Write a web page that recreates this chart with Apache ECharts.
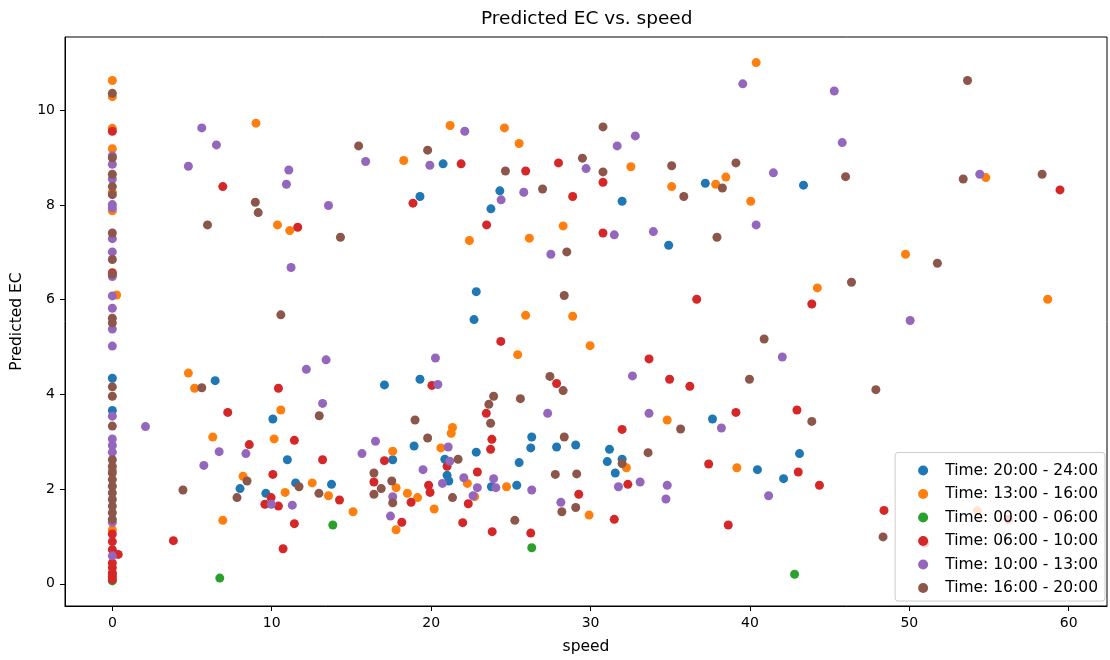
<!DOCTYPE html>
<html>
<head>
<meta charset="utf-8">
<script src="https://cdn.jsdelivr.net/npm/echarts@6/dist/echarts.min.js"></script>
<style>html,body{margin:0;padding:0;background:#fff;}#c{width:1110px;height:660px;}</style>
</head>
<body>
<div id="c"></div>
<script>
const seriesNames = ["Time: 20:00 - 24:00","Time: 13:00 - 16:00","Time: 00:00 - 06:00","Time: 06:00 - 10:00","Time: 10:00 - 13:00","Time: 16:00 - 20:00"];
const colors = ["#1f77b4","#ff7f0e","#2ca02c","#d62728","#9467bd","#8c564b"];
const xTicks = [0,10,20,30,40,50,60];
const yTicks = [0,2,4,6,8,10];

const blue = [[0,4.34],[0,3.66],
[6.45,4.29],[10.07,3.48],[10.98,2.62],[11.50,2.13],[8.01,2.01],[9.63,1.91],
[20.75,8.87],[19.30,8.18],[24.31,8.30],[23.75,7.92],[22.83,6.17],[22.69,5.58],
[19.30,4.32],[17.07,4.20],[18.93,2.91],[17.59,2.62],[22.83,2.78],[20.86,2.63],
[26.31,3.10],[26.25,2.87],[27.87,2.89],[29.07,2.93],[25.52,2.56],[21.00,2.29],[21.11,2.17],[23.78,2.05],[25.37,2.08],[13.75,2.10],
[37.20,8.46],[43.36,8.42],[31.98,8.08],[34.90,7.15],
[37.65,3.48],[31.19,2.84],[31.05,2.58],[31.98,2.63],[31.55,2.34],[40.47,2.41],[43.11,2.75],[42.11,2.22]];

const orange = [[0,10.63],[0,10.29],[0,9.62],[0,9.19],[0,8.27],[0,7.88],[0.27,6.10],[0,2.4],[0,1.14],
[9.01,9.73],[10.36,7.58],[11.13,7.46],[4.77,4.45],[5.16,4.13],[10.57,3.67],[6.30,3.10],[10.15,3.06],[8.20,2.27],[12.54,2.13],[10.84,1.93],[6.93,1.34],
[21.19,9.68],[24.60,9.63],[25.52,9.30],[18.28,8.94],[22.40,7.25],[26.16,7.30],[28.28,7.56],[25.93,5.67],[28.88,5.65],
[25.43,4.84],[21.34,3.30],[21.26,3.18],[20.61,2.87],[17.59,2.80],[17.80,2.03],[18.51,1.91],[19.15,1.82],[22.27,2.12],[22.73,1.84],[24.73,2.05],[13.56,1.86],[15.10,1.52],[17.80,1.14],[20.19,1.58],
[40.39,11.01],[32.53,8.81],[35.09,8.39],[37.85,8.44],[38.49,8.59],[40.05,8.08],[44.23,6.25],
[29.97,5.03],[34.81,3.46],[32.25,2.45],[39.18,2.45],[29.91,1.45],
[49.76,6.96],[54.80,8.58],[58.68,6.01],[54.27,1.54]];

const green = [[0,0.06],[0,0.2],[6.74,0.12],[13.83,1.24],[26.31,0.76],[42.80,0.20]];

const red = [[0,9.56],[0,6.57],[0,1.05],[0,0.89],[0,0.72],[0.37,0.62],[0,0.44],[0,0.34],[0,0.23],[0,0.15],[0,0.09],
[6.93,8.39],[11.63,7.53],[10.42,4.13],[7.24,3.62],[11.42,3.03],[8.59,2.94],[10.07,2.31],[9.96,1.82],[9.57,1.68],[10.42,1.64],[11.42,1.27],[3.83,0.91],[10.71,0.74],
[21.88,8.87],[25.93,8.72],[27.99,8.89],[18.86,8.04],[28.88,8.18],[23.48,7.58],
[24.37,5.12],[20.05,4.19],[27.87,4.23],[23.46,3.60],[23.81,3.05],[23.73,2.84],[13.19,2.62],[17.07,2.60],[21.00,2.48],[22.90,2.36],[16.41,2.15],[19.84,2.08],[19.93,1.93],[18.74,1.72],[22.33,1.69],[29.26,1.89],[14.25,1.77],[18.16,1.30],[21.98,1.29],[23.83,1.10],[26.25,1.07],
[30.78,8.48],[30.78,7.41],[36.66,6.01],[43.88,5.91],
[33.67,4.75],[34.96,4.32],[36.23,4.17],[39.12,3.62],[42.95,3.67],[31.98,3.26],[37.41,2.53],[43.03,2.36],[44.36,2.08],[32.34,2.10],[31.49,1.36],[38.64,1.24],
[59.45,8.32],[48.41,1.55],[50.97,0.86],[56.21,1.36]];

const purple = [[0,9.04],[0,8.86],[0,8.55],[0,8.01],[0,7.94],[0,7.29],[0,7.01],[0,6.49],[0,6.08],[0,5.82],[0,5.38],[0,5.02],[0,3.54],[0,3.06],[0,2.92],[0,2.78],[0,1.3],[0,0.59],
[5.61,9.63],[6.53,9.27],[4.77,8.82],[11.07,8.74],[10.92,8.44],[11.21,6.68],[12.17,4.53],[2.08,3.32],[6.70,2.79],[8.38,2.75],[5.74,2.50],[9.98,1.68],[11.29,1.66],
[22.11,9.56],[15.89,8.92],[19.92,8.84],[13.56,7.99],[24.39,8.11],[25.81,8.27],[27.51,6.96],
[13.41,4.73],[20.27,4.77],[20.42,4.21],[27.31,3.60],[13.19,3.81],[21.07,2.89],[16.51,3.01],[15.66,2.75],[21.17,2.59],[19.49,2.41],[17.59,1.84],[20.71,2.12],[22.05,2.24],[22.90,2.03],[22.63,1.86],[23.92,2.22],[24.06,2.03],[26.31,1.98],[28.14,1.72],[17.45,1.43],
[39.55,10.56],[45.29,10.41],[32.81,9.46],[31.67,9.25],[29.72,8.77],[41.47,8.68],[31.49,7.37],[33.94,7.44],[40.39,7.58],
[42.03,4.79],[32.63,4.39],[33.67,3.60],[38.21,3.29],[41.17,1.86],[31.75,2.05],[33.11,2.15],[34.81,2.08],[34.73,1.79],
[45.79,9.32],[54.42,8.65],[50.05,5.56]];

const brown = [[0,10.36],[0,9.0],[0,8.65],[0,8.39],[0,8.22],[0,7.41],[0,6.85],[0,6.54],[0,5.61],[0,5.51],[0,4.16],[0,3.96],[0,3.33],[0,2.62],[0,2.48],[0,2.34],[0,2.2],[0,2.06],[0,1.92],[0,1.78],[0,1.64],[0,1.50],[0,1.36],
[8.97,8.06],[9.15,7.84],[5.97,7.58],[10.57,5.68],[5.61,4.14],[8.45,2.17],[11.71,2.05],[4.43,1.98],[7.82,1.82],
[15.45,9.25],[19.78,9.16],[24.66,8.72],[26.99,8.34],[14.31,7.32],[28.51,7.01],[28.35,6.09],
[27.45,4.38],[28.28,4.08],[23.92,3.96],[23.62,3.79],[25.60,3.91],[12.98,3.55],[18.99,3.46],[23.73,3.39],[19.78,3.08],[28.35,3.10],[21.69,2.63],[16.41,2.34],[17.53,2.17],[16.87,2.01],[16.41,1.89],[17.59,1.71],[21.34,1.82],[27.79,2.31],[29.13,2.32],[28.2,1.52],[29.07,1.61],[12.96,1.91],[25.25,1.34],
[30.78,9.65],[29.49,8.99],[30.78,8.70],[35.09,8.83],[35.85,8.18],[38.27,8.36],[39.12,8.89],[37.93,7.32],
[40.89,5.17],[39.97,4.32],[35.65,3.27],[43.88,3.43],[33.61,2.77],[31.98,2.54],
[53.65,10.63],[46.00,8.60],[53.38,8.55],[58.33,8.65],[51.76,6.77],[46.37,6.37],[47.90,4.10],[48.35,0.99]];

const allData = [blue, orange, green, red, purple, brown];
const FONT = 'DejaVu Sans';

const chart = echarts.init(document.getElementById('c'), null, {renderer: 'canvas'});
chart.setOption({
  animation: false,
  backgroundColor: '#ffffff',
  textStyle: {fontFamily: FONT},
  title: {
    text: 'Predicted EC vs. speed',
    left: 481, top: 10, padding: 0,
    textStyle: {fontFamily: FONT, fontSize: 18.5, fontWeight: 'normal', color: '#000'}
  },
  grid: {left: 65, right: 3, top: 37, bottom: 50, show: true, borderColor: '#000', borderWidth: 1, containLabel: false},
  xAxis: {
    type: 'value', min: -2.97, max: 62.4,
    name: 'speed', nameLocation: 'middle', nameGap: 33,
    nameTextStyle: {fontFamily: FONT, fontSize: 15.5, color: '#000'},
    axisLine: {show: true, onZero: false, lineStyle: {color: '#000', width: 1}},
    axisTick: {show: true, length: 5, customValues: xTicks, lineStyle: {color: '#000'}},
    axisLabel: {customValues: xTicks, margin: 10, fontFamily: FONT, fontSize: 14, color: '#000'},
    splitLine: {show: false}
  },
  yAxis: {
    type: 'value', min: -0.47, max: 11.55,
    name: 'Predicted EC', nameLocation: 'middle', nameGap: 40,
    nameTextStyle: {fontFamily: FONT, fontSize: 15.5, color: '#000'},
    axisLine: {show: true, onZero: false, lineStyle: {color: '#000', width: 1}},
    axisTick: {show: true, length: 5, customValues: yTicks, lineStyle: {color: '#000'}},
    axisLabel: {customValues: yTicks, margin: 10, fontFamily: FONT, fontSize: 14, color: '#000'},
    splitLine: {show: false}
  },
  legend: {
    orient: 'vertical', right: 5, bottom: 59,
    icon: 'circle', itemWidth: 10, itemHeight: 14, itemGap: 7.5,
    padding: [10, 7, 5, 23],
    backgroundColor: 'rgba(255,255,255,0.8)', borderColor: '#cccccc', borderWidth: 1, borderRadius: 3,
    textStyle: {fontFamily: FONT, fontSize: 15.5, lineHeight: 14, color: '#000', padding: [0, 0, 0, 12]},
    data: seriesNames
  },
  series: allData.map((d, i) => ({
    type: 'scatter', name: seriesNames[i], data: d,
    symbol: 'circle', symbolSize: 9,
    itemStyle: {color: colors[i], opacity: 1},
    emphasis: {disabled: true}
  }))
});
</script>
</body>
</html>
